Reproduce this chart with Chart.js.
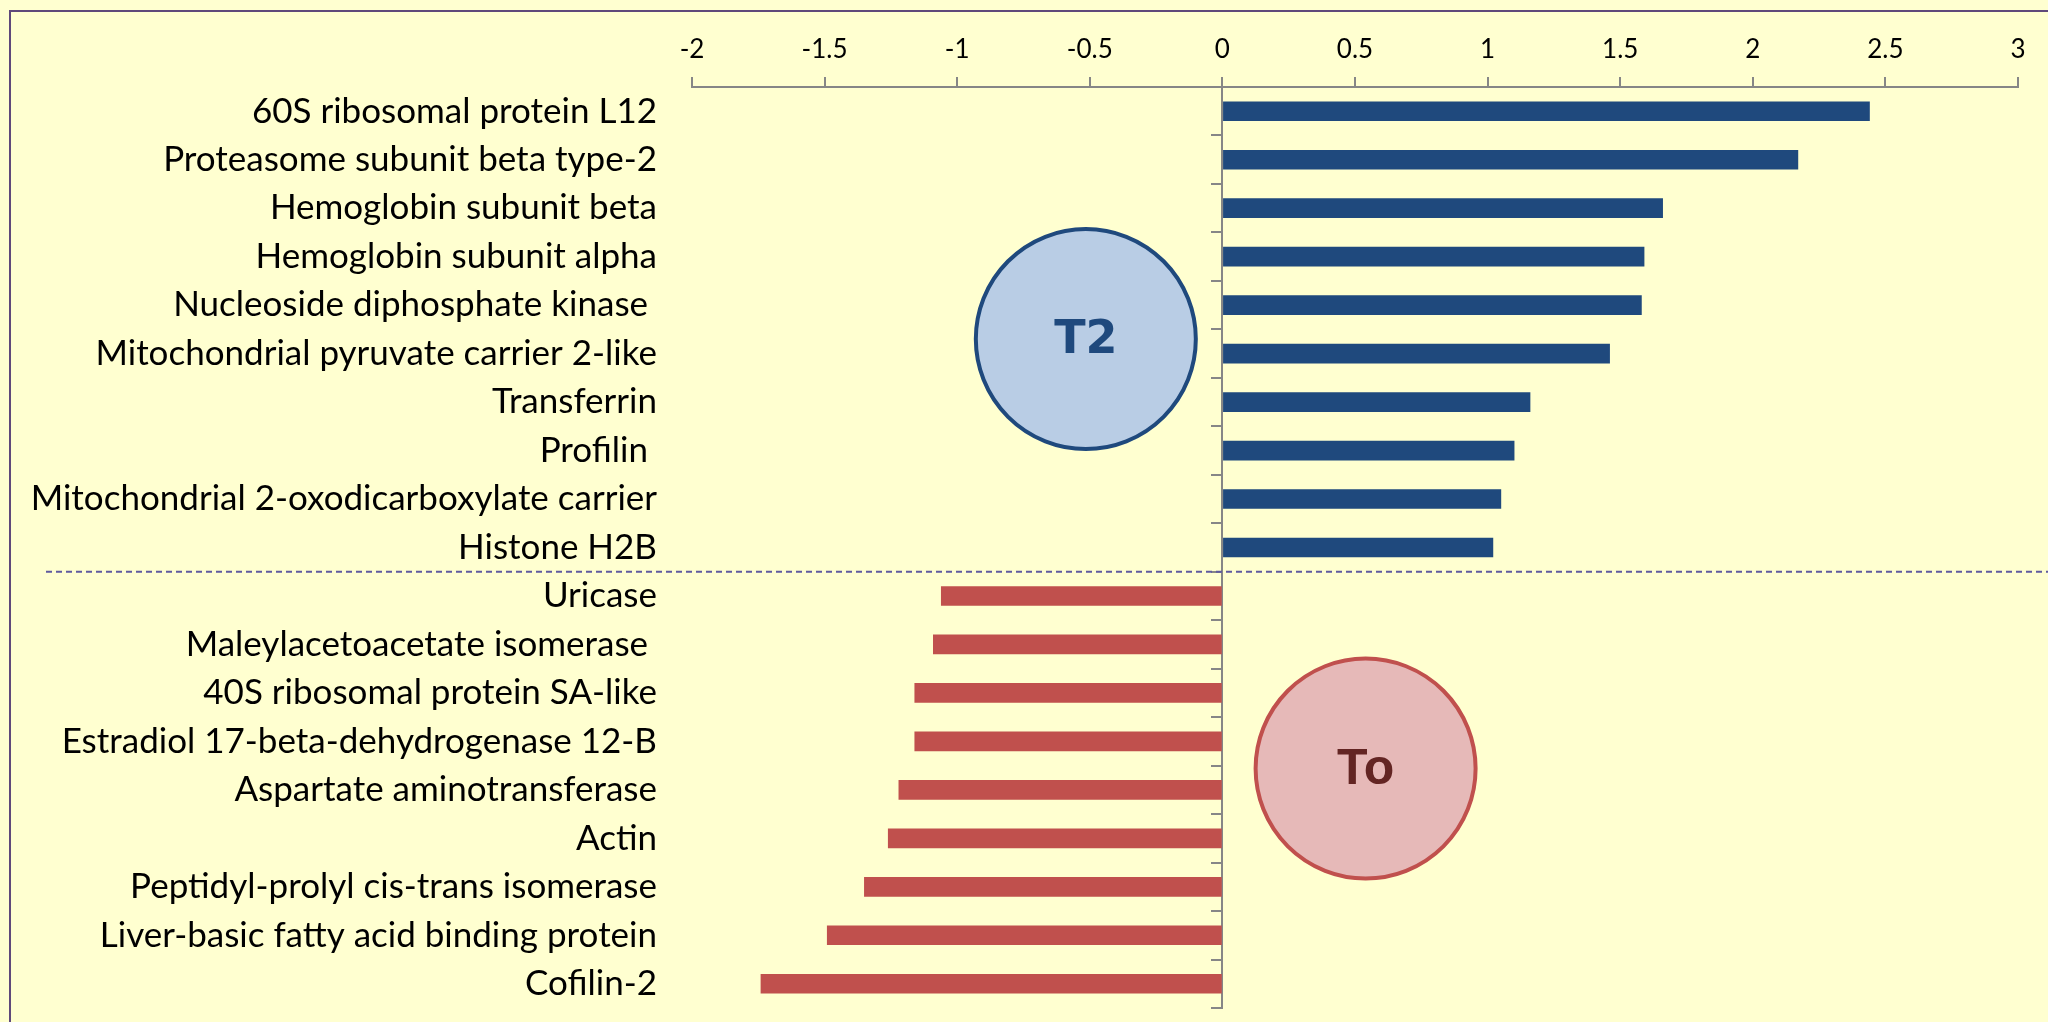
<!DOCTYPE html>
<html>
<head>
<meta charset="utf-8">
<title>T2 vs T0 protein changes</title>
<script src="https://cdn.jsdelivr.net/npm/chart.js@4.4.1/dist/chart.umd.min.js"></script>
<style>
  html, body { margin: 0; padding: 0; background: #ffffd0; overflow: hidden; }
  #wrap { position: relative; width: 2048px; height: 1022px; }
</style>
</head>
<body>
<div id="wrap"><canvas id="chart" width="2048" height="1022"></canvas></div>
<script>
const categories = [
  "60S ribosomal protein L12",
  "Proteasome subunit beta type-2",
  "Hemoglobin subunit beta",
  "Hemoglobin subunit alpha",
  "Nucleoside diphosphate kinase ",
  "Mitochondrial pyruvate carrier 2-like",
  "Transferrin",
  "Profilin ",
  "Mitochondrial 2-oxodicarboxylate carrier",
  "Histone H2B",
  "Uricase",
  "Maleylacetoacetate isomerase ",
  "40S ribosomal protein SA-like",
  "Estradiol 17-beta-dehydrogenase 12-B",
  "Aspartate aminotransferase",
  "Actin",
  "Peptidyl-prolyl cis-trans isomerase",
  "Liver-basic fatty acid binding protein",
  "Cofilin-2"
];

// up in T2 (first 10 rows), up in T0 (last 9 rows)
const t2Values = [2.44, 2.17, 1.66, 1.59, 1.58, 1.46, 1.16, 1.10, 1.05, 1.02];
const t0Values = [-1.06, -1.09, -1.16, -1.16, -1.22, -1.26, -1.35, -1.49, -1.74];

const xTickLabels = ["-2", "-1.5", "-1", "-0.5", "0", "0.5", "1", "1.5", "2", "2.5", "3"];

const COLORS = {
  t2: "#1f497d",
  t2Fill: "#b9cde5",
  t0: "#c0504d",
  t0Fill: "#e6b9b8",
  t0Text: "#632523",
  axis: "#868686",
  frame: "#5f497a",
  divider: "#5f5a9e",
  text: "#000000",
};

const LABEL_FONT = "Lato, 'Open Sans', sans-serif";

const padNulls = (n) => Array(n).fill(null);

// frame, dashed divider and the two group badges
const decorations = {
  id: "decorations",
  beforeDraw(chart) {
    const ctx = chart.ctx;
    ctx.save();
    ctx.strokeStyle = COLORS.frame;
    ctx.lineWidth = 2;
    ctx.beginPath();
    ctx.moveTo(10, chart.height);
    ctx.lineTo(10, 11);
    ctx.lineTo(chart.width, 11);
    ctx.stroke();
    ctx.restore();
  },
  afterDatasetsDraw(chart) {
    const { ctx, scales } = chart;
    const yDiv = scales.y.getPixelForValue(t2Values.length - 0.5);
    ctx.save();
    ctx.strokeStyle = COLORS.divider;
    ctx.lineWidth = 2;
    ctx.setLineDash([6, 4]);
    ctx.beginPath();
    ctx.moveTo(46, yDiv);
    ctx.lineTo(chart.width, yDiv);
    ctx.stroke();
    ctx.restore();

    const badges = [
      { text: "T2", x: -0.515, y: 4.7, stroke: COLORS.t2, fill: COLORS.t2Fill, color: COLORS.t2, font: "bold 46px 'DejaVu Sans'" },
      { text: "To", x: 0.54, y: 13.56, stroke: COLORS.t0, fill: COLORS.t0Fill, color: COLORS.t0Text, font: "bold 50px 'Liberation Sans'" },
    ];
    badges.forEach((b) => {
      const cx = scales.x.getPixelForValue(b.x);
      const cy = scales.y.getPixelForValue(b.y);
      ctx.save();
      ctx.beginPath();
      ctx.arc(cx, cy, 110, 0, Math.PI * 2);
      ctx.fillStyle = b.fill;
      ctx.fill();
      ctx.lineWidth = 4;
      ctx.strokeStyle = b.stroke;
      ctx.stroke();
      ctx.fillStyle = b.color;
      ctx.font = b.font;
      ctx.textAlign = "center";
      ctx.textBaseline = "middle";
      ctx.fillText(b.text, cx, cy + 2);
      ctx.restore();
    });
  },
};

new Chart(document.getElementById("chart"), {
  type: "bar",
  data: {
    labels: categories,
    datasets: [
      { label: "T2", data: t2Values.concat(padNulls(t0Values.length)), backgroundColor: COLORS.t2 },
      { label: "T0", data: padNulls(t2Values.length).concat(t0Values), backgroundColor: COLORS.t0 },
    ],
  },
  options: {
    indexAxis: "y",
    responsive: false,
    devicePixelRatio: 1,
    animation: false,
    layout: { padding: { left: 0, top: 0, right: 30, bottom: 14 } },
    datasets: { bar: { grouped: false, barThickness: 19 } },
    plugins: { legend: { display: false }, tooltip: { enabled: false } },
    scales: {
      x: {
        type: "linear",
        position: "top",
        min: -2,
        max: 3,
        afterFit: (scale) => { scale.height = 87; },
        ticks: {
          stepSize: 0.5,
          padding: 12,
          color: COLORS.text,
          font: { family: LABEL_FONT, size: 26 },
          callback: (value, index) => xTickLabels[index],
        },
        grid: { drawOnChartArea: false, drawTicks: true, tickLength: 10, color: COLORS.axis, lineWidth: 2 },
        border: { color: COLORS.axis, width: 2 },
      },
      y: {
        type: "category",
        position: "left",
        afterFit: (scale) => {
          scale.width = 692;
          scale.paddingTop = 0;
          scale.paddingBottom = 0;
        },
        ticks: { padding: 27, color: COLORS.text, font: { family: LABEL_FONT, size: 35 } },
        grid: { display: false, tickLength: 8 },
        border: { display: false },
      },
      y0: {
        type: "category",
        position: { x: 0 },
        ticks: { display: false },
        grid: { drawOnChartArea: false, drawTicks: true, tickLength: 10, color: COLORS.axis, lineWidth: 2, offset: true },
        border: { color: COLORS.axis, width: 2 },
      },
    },
  },
  plugins: [decorations],
});
</script>
</body>
</html>
